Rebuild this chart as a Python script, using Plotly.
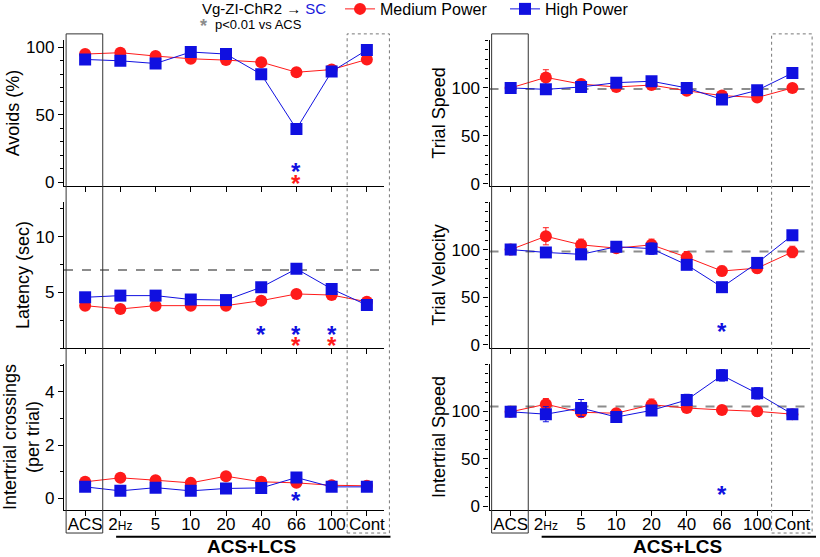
import plotly.graph_objects as go
from plotly.subplots import make_subplots

# categories on the x axis
cats = ["ACS", "2Hz", "5", "10", "20", "40", "66", "100", "Cont"]
tick_text = ["ACS", "2<span style='font-size:12px'>Hz</span>", "5", "10", "20",
             "40", "66", "100", "Cont"]

# left column
avoids_med = [95, 96, 93.5, 91.5, 90.5, 89, 81.5, 83.5, 91]
avoids_high = [91, 90, 88, 96.5, 95, 80, 39.5, 82, 98]
latency_med = [3.8, 3.5, 3.8, 3.8, 3.8, 4.25, 4.85, 4.75, 4.15]
latency_high = [4.55, 4.7, 4.7, 4.35, 4.3, 5.45, 7.1, 5.3, 3.85]
cross_med = [0.62, 0.77, 0.68, 0.58, 0.83, 0.62, 0.58, 0.49, 0.47]
cross_high = [0.43, 0.28, 0.40, 0.28, 0.37, 0.39, 0.78, 0.43, 0.43]

# right column (% of ACS)
tspeed_med = [100, 111, 104, 101, 103, 97, 92, 90, 100]
tspeed_med_err = [3, 8, 4, 3, 4, 4, 4, 4, 4]
tspeed_high = [100, 98.5, 101, 105.5, 107, 100, 88, 97.5, 115.5]
tspeed_high_err = [2, 3, 3, 3, 3, 3, 3, 3, 3]
tvel_med = [100, 114, 105, 101.5, 105, 92, 77.5, 80.5, 97.5]
tvel_med_err = [3, 9, 6, 4, 6, 6, 5, 5, 6]
tvel_high = [100, 97, 95, 103, 101, 84, 60.5, 86, 115]
tvel_high_err = [3, 4, 3, 4, 6, 4, 4, 4, 3]
ispeed_med = [99.5, 107.5, 99, 98, 107, 103.5, 101.5, 100, 97]
ispeed_med_err = [3, 6, 5, 4, 6, 4, 4, 5, 3]
ispeed_high = [99.5, 97, 103.5, 94, 101, 112, 138, 119, 97]
ispeed_high_err = [3, 8, 9, 5, 5, 6, 6, 6, 4]

# dashed reference levels (panel -> y)
ref_levels = {"latency": 7, "tspeed": 99, "tvel": 98, "ispeed": 105}

# significance stars: (panel, category, y, series)
stars = [
    ("avoids", "66", 11, "high"), ("avoids", "66", 2, "med"),
    ("latency", "40", 1.56, "high"), ("latency", "66", 1.56, "high"),
    ("latency", "100", 1.56, "high"), ("latency", "66", 0.6, "med"),
    ("latency", "100", 0.6, "med"),
    ("cross", "66", 0.06, "high"),
    ("tvel", "66", 18.5, "high"),
    ("ispeed", "66", 16.8, "high"),
]

RED = "#ff1a1a"
BLUE = "#1010e0"
FONT = "Liberation Sans, Arial, sans-serif"

panels = {
    # name: (row, col, med, med_err, high, high_err, title, yrange, ticks, minor)
    "avoids": (1, 1, avoids_med, None, avoids_high, None, "Avoids (%)",
               [-2.7, 105.4], [0, 50, 100], 10),
    "latency": (2, 1, latency_med, None, latency_high, None, "Latency (sec)",
                [0, 13.1], [5, 10], 2.5),
    "cross": (3, 1, cross_med, None, cross_high, None,
              "Intertrial crossings<br>(per trial)", [-0.44, 5.05], [0, 2, 4], 1),
    "tspeed": (1, 2, tspeed_med, tspeed_med_err, tspeed_high, tspeed_high_err,
               "Trial Speed", [-2.3, 150], [0, 50, 100], 10),
    "tvel": (2, 2, tvel_med, tvel_med_err, tvel_high, tvel_high_err,
             "Trial Velocity", [-3.4, 150], [0, 50, 100], 10),
    "ispeed": (3, 2, ispeed_med, ispeed_med_err, ispeed_high, ispeed_high_err,
               "Intertrial Speed", [-4.2, 150], [0, 50, 100], 10),
}

fig = make_subplots(rows=3, cols=2, horizontal_spacing=0.1408,
                    vertical_spacing=16 / 470)

xi = list(range(len(cats)))
XR = [-0.6, 8.5]
first = True
for name, (row, col, med, med_err, high, high_err, title, yr, tv, minor) in panels.items():
    for vals, err, color, sym, label in [
        (med, med_err, RED, "circle", "Medium Power"),
        (high, high_err, BLUE, "square", "High Power"),
    ]:
        fig.add_trace(go.Scatter(
            x=xi, y=vals, mode="lines+markers", name=label,
            line=dict(color=color, width=1),
            marker=dict(color=color, symbol=sym, size=12),
            error_y=dict(type="data", array=err, visible=err is not None,
                         color=color, thickness=1, width=3),
            showlegend=first,
        ), row=row, col=col)
    first = False
    fig.update_yaxes(row=row, col=col, range=yr, tickvals=tv, title_text=title,
                     title_font=dict(size=18), title_standoff=1,
                     showline=True, linecolor="black", linewidth=1.3,
                     ticks="outside", ticklen=5, tickcolor="black",
                     showgrid=False, zeroline=False,
                     minor=dict(dtick=minor, ticks="outside", ticklen=3,
                                tickcolor="black", showgrid=False))
    fig.update_xaxes(row=row, col=col, range=XR, tickvals=xi,
                     ticktext=tick_text if row == 3 else [""] * len(xi),
                     ticklabelstandoff=-7,
                     showline=True, linecolor="black", linewidth=1.3,
                     ticks="outside", ticklen=5, tickcolor="black",
                     showgrid=False, zeroline=False)

# axis ids per panel
def axis_ids(row, col):
    n = (row - 1) * 2 + col
    return ("x" if n == 1 else f"x{n}"), ("y" if n == 1 else f"y{n}")

for name, level in ref_levels.items():
    row, col = panels[name][0], panels[name][1]
    xa, ya = axis_ids(row, col)
    fig.add_shape(type="line", xref=f"{xa} domain", yref=ya, x0=0, x1=1,
                  y0=level, y1=level, line=dict(color="#8c8c8c", width=2, dash="dash"),
                  layer="below")

for name, cat, yv, series in stars:
    row, col = panels[name][0], panels[name][1]
    xa, ya = axis_ids(row, col)
    fig.add_annotation(x=cats.index(cat), y=yv, xref=xa, yref=ya, text="<b>*</b>",
                       showarrow=False, yshift=-4, xanchor="center", yanchor="middle",
                       font=dict(size=24, color=BLUE if series == "high" else RED))

# column decorations: ACS box, Cont box, ACS+LCS bracket
def xpaper(col, v):
    dom = fig.layout["xaxis" if col == 1 else "xaxis2"].domain
    return dom[0] + (v - XR[0]) / (XR[1] - XR[0]) * (dom[1] - dom[0])

for col, cont_box in [(1, (7.44, 8.64)), (2, (7.41, 8.56))]:
    fig.add_shape(type="rect", xref="paper", yref="paper",
                  x0=xpaper(col, -0.54), x1=xpaper(col, 0.5), y0=-0.049, y1=1.013,
                  line=dict(color="#333333", width=1))
    fig.add_shape(type="rect", xref="paper", yref="paper",
                  x0=xpaper(col, cont_box[0]), x1=xpaper(col, cont_box[1]),
                  y0=-0.049, y1=1.013,
                  line=dict(color="#777777", width=1, dash="dot"))
    fig.add_shape(type="line", xref="paper", yref="paper",
                  x0=xpaper(col, 0.88), x1=xpaper(col, 8.67), y0=-0.057, y1=-0.057,
                  line=dict(color="black", width=2))
    fig.add_annotation(xref="paper", yref="paper", x=xpaper(col, 4.73), y=-0.0787,
                       text="<b>ACS+LCS</b>", showarrow=False, xanchor="center",
                       yanchor="middle", borderpad=0,
                       font=dict(size=19, color="black"))

# header
fig.add_annotation(xref="paper", yref="paper", x=0.268, y=1.066, xanchor="center",
                   yanchor="middle",
                   text="Vg-ZI-ChR2 → <span style='color:#1a1adb'>SC</span>",
                   showarrow=False, font=dict(size=15, color="black"))
fig.add_annotation(xref="paper", yref="paper", x=0.187, y=1.03, xanchor="center",
                   yanchor="middle", text="<b>*</b>", showarrow=False,
                   font=dict(size=18, color="#8c8c8c"))
fig.add_annotation(xref="paper", yref="paper", x=0.2, y=1.034, xanchor="left",
                   yanchor="middle", text="p<0.01 vs ACS", showarrow=False,
                   font=dict(size=13, color="black"))

fig.update_layout(
    width=820, height=557,
    margin=dict(l=64, r=10, t=40, b=47, autoexpand=False),
    plot_bgcolor="white", paper_bgcolor="white",
    font=dict(family=FONT, size=17, color="black"),
    legend=dict(orientation="h", x=0.37, y=1.066, yanchor="middle",
                xanchor="left", font=dict(size=16), bgcolor="rgba(0,0,0,0)",
                itemwidth=30, entrywidth=120),
)

# the page body has a default 8px margin; drop it so the figure fills the window
fig.write_html("out.html", config={"displayModeBar": False},
               post_script="document.body.style.margin='0px';")
